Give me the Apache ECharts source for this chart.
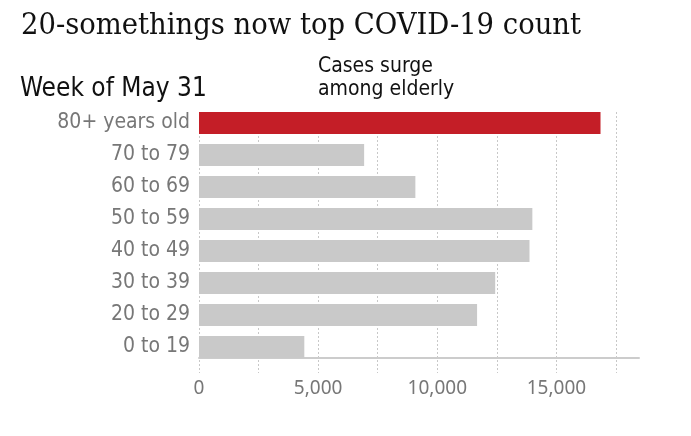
<!DOCTYPE html>
<html>
<head>
<meta charset="utf-8">
<style>
  html, body { margin: 0; padding: 0; background: #fff; }
  #main { width: 691px; height: 436px; }
</style>
<script src="https://cdn.jsdelivr.net/npm/echarts@6/dist/echarts.min.js"></script>
</head>
<body>
<div id="main"></div>
<script>
// age groups, top to bottom
var ageGroups = ["80+ years old", "70 to 79", "60 to 69", "50 to 59", "40 to 49", "30 to 39", "20 to 29", "0 to 19"];
// weekly cases, week of May 31
var cases = [16850, 6930, 9080, 13990, 13870, 12430, 11670, 4420];
var highlightGroup = "80+ years old";

var labelFont = '"DejaVu Sans Condensed", "Liberation Sans Narrow", Roboto, sans-serif';

var myChart = echarts.init(document.getElementById("main"));

myChart.setOption({
  animation: false,
  title: [
    {
      text: "20-somethings now top COVID-19 count",
      left: 16,
      top: 6,
      textStyle: { fontFamily: '"DejaVu Serif Condensed", "Liberation Serif", serif', fontSize: 30.5, fontWeight: "normal", color: "#111" }
    },
    {
      text: "Week of May 31",
      left: 15,
      top: 71,
      textStyle: { fontFamily: labelFont, fontSize: 26, fontWeight: "normal", color: "#111" }
    },
    {
      text: "Cases surge\namong elderly",
      left: 313,
      top: 50,
      textStyle: { fontFamily: labelFont, fontSize: 21, fontWeight: "normal", color: "#111", lineHeight: 23 }
    }
  ],
  grid: [
    // bars
    { left: 199, right: 75, top: 107, bottom: 73 },
    // dotted gridlines and value labels
    { left: 199, right: 75, top: 112, bottom: 63 },
    // baseline
    { left: 199, right: 52, top: 357, height: 1 }
  ],
  xAxis: [
    { gridIndex: 0, type: "value", min: 0, max: 17500, show: false },
    {
      gridIndex: 1,
      type: "value",
      min: 0,
      max: 17500,
      interval: 2500,
      axisLine: { show: false },
      axisTick: { show: false },
      splitLine: { show: true, lineStyle: { color: "#c8c8c8", type: [2, 2], width: 1 } },
      axisLabel: {
        margin: 6,
        color: "#777",
        fontFamily: "Noto Sans",
        fontSize: 19,
        formatter: function (v) {
          return v % 5000 === 0 ? v.toLocaleString("en-US") : "";
        }
      }
    },
    {
      gridIndex: 2,
      type: "value",
      min: 0,
      max: 18500,
      axisLine: { show: true, lineStyle: { color: "#cccccc", width: 2 } },
      axisTick: { show: false },
      axisLabel: { show: false },
      splitLine: { show: false }
    }
  ],
  yAxis: [
    {
      gridIndex: 0,
      type: "category",
      inverse: true,
      data: ageGroups,
      axisLine: { show: false },
      axisTick: { show: false },
      axisLabel: { margin: 9, color: "#777", fontFamily: labelFont, fontSize: 21 }
    },
    { gridIndex: 1, type: "value", show: false },
    { gridIndex: 2, type: "value", show: false }
  ],
  series: [
    {
      type: "bar",
      xAxisIndex: 0,
      yAxisIndex: 0,
      barWidth: 22,
      data: cases.map(function (v, i) {
        return {
          value: v,
          itemStyle: { color: ageGroups[i] === highlightGroup ? "#c41e27" : "#c9c9c9" }
        };
      }),
      z: 3
    }
  ]
});
</script>
</body>
</html>
